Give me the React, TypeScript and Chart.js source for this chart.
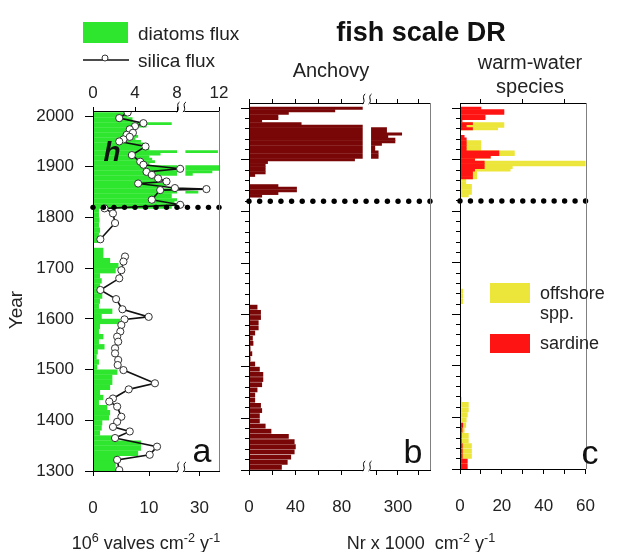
import React, { useEffect, useRef } from 'react';
import { Chart, registerables } from 'chart.js';

Chart.register(...registerables);

const FONT = "'Liberation Sans', Arial, Helvetica, sans-serif";
const TEXT = '#222';
const GREEN = '#2EE62E';
const MAROON = '#7A0707';
const YELLOW = '#EDE63A';
const RED = '#FF1414';
const TICK_SIZE = 17;

// ---------------- shared year axis ----------------
const YEAR_MIN = 1300;
const YEAR_MAX = 2010;
const regimeShiftYear = 1820;
const yearMajorTicks = [1300, 1400, 1500, 1600, 1700, 1800, 1900, 2000];
const yearMinorTicks = [1300, 1320, 1340, 1360, 1380, 1400, 1420, 1440, 1460, 1480, 1500, 1520, 1540, 1560, 1580, 1600, 1620, 1640, 1660, 1680, 1700, 1720, 1740, 1760, 1780, 1800, 1820, 1840, 1860, 1880, 1900, 1920, 1940, 1960, 1980, 2000];

// ---------------- panel a: diatoms flux (bars) & silica flux (line) ----------------
const diatomRecentYears = [2005, 2000, 1995, 1990, 1985, 1980, 1975, 1970, 1965, 1960, 1955, 1950, 1945, 1940, 1935, 1930, 1925, 1920, 1915, 1910, 1905, 1900, 1895, 1890, 1885, 1880, 1875, 1870, 1865, 1860, 1855, 1850, 1845, 1840, 1835, 1830, 1825, 1820];
const diatomRecent = [6.5, 6, 7, 7, 14, 9.5, 7, 7.5, 7, 8, 7.5, 8.5, 9, 8.5, 10, 43, 12, 10, 10.5, 11, 10, 44, 44, 39, 25, 11, 12, 11.5, 13, 12, 15, 29, 14, 14, 15, 14.5, 15, 14];
const diatomOldYears = [1815, 1805, 1795, 1785, 1775, 1765, 1755, 1745, 1735, 1725, 1715, 1705, 1695, 1685, 1675, 1665, 1655, 1645, 1635, 1625, 1615, 1605, 1595, 1585, 1575, 1565, 1555, 1545, 1535, 1525, 1515, 1505, 1495, 1485, 1475, 1465, 1455, 1445, 1435, 1425, 1415, 1405, 1395, 1385, 1375, 1365, 1355, 1345, 1335, 1325, 1315, 1305];
const diatomOld = [1.0, 1.0, 1.1, 1.0, 1.2, 1.0, 1.0, 0, 1.8, 1.8, 3.0, 4.5, 4.0, 1.2, 1.5, 1.2, 1.0, 1.6, 1.2, 1.0, 3.4, 1.5, 4.8, 1.2, 1.0, 1.8, 1.0, 2.0, 0.8, 0.6, 1.0, 0.7, 4.3, 3.4, 3.4, 3.0, 1.2, 1.8, 1.0, 2.5, 3.0, 2.8, 1.6, 1.5, 1.2, 3.6, 8.5, 8.5, 8.0, 4.3, 4.0, 4.0];
const silicaYears = [2007, 1996, 1986, 1980, 1974, 1967, 1963, 1959, 1954, 1950, 1940, 1923, 1910, 1904, 1896, 1890, 1884, 1877, 1871, 1867, 1858, 1856, 1854, 1835, 1825, 1818, 1808, 1789, 1757, 1740, 1723, 1713, 1696, 1680, 1657, 1639, 1619, 1604, 1599, 1588, 1575, 1565, 1555, 1542, 1532, 1519, 1509, 1499, 1473, 1461, 1443, 1437, 1427, 1407, 1397, 1387, 1378, 1365, 1348, 1332, 1322, 1302];
const silicaFlux = [3.3, 2.5, 4.8, 4.0, 3.5, 3.8, 3.2, 3.5, 2.9, 2.5, 5.0, 3.7, 4.5, 4.8, 8.3, 5.1, 5.6, 6.2, 7.0, 4.3, 7.8, 10.8, 6.4, 5.6, 8.3, 1.1, 1.9, 2.1, 0.7, null, 3.05, 2.9, 2.7, 2.5, 0.7, 2.2, 2.8, 5.3, 3.0, 2.7, 2.6, 2.3, 2.4, 2.1, 2.1, 2.4, 2.35, 2.9, 5.9, 3.4, 1.9, 1.55, 2.3, 2.7, 2.3, 1.9, 3.5, 2.1, 6.1, 5.4, 2.3, 2.5];
const silicaTicks = [0, 4, 8, 12];
const diatomTicks = [0, 10, 30];

// ---------------- panel b: anchovy ----------------
const anchovyRecentYears = [2000, 1995, 1990, 1985, 1980, 1975, 1970, 1965, 1960, 1955, 1950, 1945, 1940, 1935, 1930, 1925, 1920, 1915, 1910, 1905, 1900, 1895, 1890, 1885, 1880, 1875, 1870, 1865, 1860, 1855, 1850, 1845, 1840, 1835, 1830];
const anchovyRecent = [150, 74, 34, 25, 25, 11, 45, 150, 246, 246, 318, 252, 286, 286, 222, 190, 190, 206, 206, 206, 91, 16, 14, 14, 14, 14, 5, 0, 0, 0, 25, 41, 41, 25, 11];
const anchovyOldYears = [1625, 1615, 1605, 1595, 1585, 1575, 1565, 1555, 1545, 1535, 1525, 1515, 1505, 1495, 1485, 1475, 1465, 1455, 1445, 1435, 1425, 1415, 1405, 1395, 1385, 1375, 1365, 1355, 1345, 1335, 1325, 1315, 1305];
const anchovyOld = [0, 7, 10, 10, 8, 8, 5, 3, 3.5, 1, 2.5, 1, 5, 9, 12, 12, 11, 7, 5, 5, 10, 11, 9, 9, 14, 19, 34, 39, 40, 39, 36, 33, 28];
const anchovyTicks = [0, 20, 40, 60, 80, 200, 300, 400];
const anchovyTickLabels = ['0', '', '40', '', '80', '', '300', ''];

// ---------------- panel c: warm-water species ----------------
const warmRecentYears = [2000, 1995, 1990, 1985, 1980, 1975, 1970, 1965, 1960, 1955, 1950, 1945, 1940, 1935, 1930, 1925, 1920, 1915, 1910, 1905, 1900, 1895, 1890, 1885, 1880, 1875, 1870, 1865, 1860, 1855, 1850, 1845, 1840, 1835, 1830];
const sardineRecent = [10, 21, 21, 12, 12, 1, 6, 3, 6, 0, 0, 2, 3, 3, 3, 3, 3, 18.6, 18.6, 14.5, 7, 11.6, 11.6, 11.6, 7, 6, 6, 6, 0, 0, 0, 0, 0, 0, 0];
const offshoreRecent = [0, 0, 0, 0, 0, 0, 21, 21, 18, 0, 0, 0, 0, 10, 10, 10, 10, 26, 26, 14.5, 7, 62, 62, 25, 24, 8, 8, 8, 2.8, 2.8, 5.5, 5.5, 5.5, 5.5, 4];
const warmOldYears = [1655, 1645, 1635, 1625, 1615, 1605, 1595, 1585, 1575, 1565, 1555, 1545, 1535, 1525, 1515, 1505, 1495, 1485, 1475, 1465, 1455, 1445, 1435, 1425, 1415, 1405, 1395, 1385, 1375, 1365, 1355, 1345, 1335, 1325, 1315, 1305];
const offshoreOld = [0, 1.3, 1.3, 1.3, 0, 0, 0, 0, 0, 0, 0, 0, 0, 0, 0, 0, 0, 0, 0, 0, 0, 0, 0.7, 4, 4, 3.5, 3, 2.8, 2, 4, 4, 5.5, 5.5, 5.5, 3, 3];
const sardineOld = [0, 0, 0, 0, 0, 0, 0, 0, 0, 0, 0, 0, 0, 0, 0, 0, 0, 0, 0, 0, 0, 0, 0, 0, 0, 0, 0, 1.3, 1, 0.7, 0.7, 1.1, 1.1, 1.1, 3.5, 3.5];
const warmTicks = [0, 10, 20, 30, 40, 50, 60];
const warmTickLabels = ['0', '', '20', '', '40', '', '60'];
const warmTopTicks = [10, 30, 50];

// ---------------- broken-axis mappings ----------------
const breakMap = (lo: number, hi: number, resume: number, k: number) => (v: number) =>
  v <= lo ? v : v < hi ? lo : resume + (v - hi) * k;
const DIATOM_BREAK = { lo: 15, resume: 16.5 };
const diatomDisplay = breakMap(15, 20, 16.5, 0.25);
const ANCHOVY_BREAK = { lo: 98, resume: 105.2 };
const anchovyDisplay = breakMap(98, 172, 105.2, 0.181);

// ---------------- axis builders ----------------
function majorYearAxis(showLabels: boolean, width: number): any {
  return {
    type: 'linear', position: 'left', min: YEAR_MIN, max: YEAR_MAX, weight: 1, offset: false,
    afterBuildTicks: (s: any) => { s.ticks = yearMajorTicks.map((v) => ({ value: v })); },
    afterFit: (s: any) => { s.width = width; },
    ticks: { display: showLabels, font: { family: FONT, size: TICK_SIZE }, color: TEXT, padding: 11, callback: (v: any) => String(v) },
    grid: { drawOnChartArea: false, offset: false, tickLength: 8, color: '#000', lineWidth: 1 },
    border: { display: true, color: '#000', width: 1, z: 1 },
  };
}
function minorYearAxis(): any {
  return {
    type: 'linear', position: 'left', min: YEAR_MIN, max: YEAR_MAX, weight: 0, offset: false,
    afterBuildTicks: (s: any) => { s.ticks = yearMinorTicks.map((v) => ({ value: v })); },
    afterFit: (s: any) => { s.width = 0; },
    ticks: { display: false },
    grid: { drawOnChartArea: false, offset: false, tickLength: 4, color: '#000', lineWidth: 1 },
    border: { display: false },
  };
}
function xAxis(position: string, min: number, max: number, tickValues: number[], labels: string[] | null, height: number, tickLen: number, pad: number): any {
  return {
    type: 'linear', position, min, max, offset: false, stacked: false,
    afterBuildTicks: (s: any) => { s.ticks = tickValues.map((v) => ({ value: v })); },
    afterFit: (s: any) => { s.height = height; },
    ticks: {
      display: !!labels, autoSkip: false, maxRotation: 0, minRotation: 0,
      font: { family: FONT, size: TICK_SIZE }, color: TEXT, padding: pad,
      callback: (_v: any, i: number) => (labels ? labels[i] : ''),
    },
    grid: { drawOnChartArea: false, offset: false, tickLength: tickLen, color: '#000', lineWidth: 1 },
    border: { display: true, color: '#000', width: 1, z: 1 },
  };
}

// ---------------- decorations: data break, dotted regime line, break marks ----------------
function decor(o: { yAxis: string; breakAxis?: string; breakFrom?: number; breakTo?: number; markAxes?: string[] }): any {
  return {
    id: 'decor',
    afterDatasetDraw(chart: any, args: any) {
      if (!o.breakAxis || args.meta.type !== 'bar') return;
      const sx = chart.scales[o.breakAxis];
      const a = sx.getPixelForValue(o.breakFrom);
      const b = sx.getPixelForValue(o.breakTo);
      const { top, bottom } = chart.chartArea;
      const ctx = chart.ctx;
      ctx.save();
      ctx.fillStyle = '#fff';
      ctx.fillRect(a, top + 1, b - a, bottom - top - 2);
      ctx.restore();
    },
    afterDatasetsDraw(chart: any) {
      const { left, right } = chart.chartArea;
      const y = chart.scales[o.yAxis].getPixelForValue(regimeShiftYear);
      const ctx = chart.ctx;
      ctx.save();
      ctx.fillStyle = '#000';
      const n = Math.round((right - left) / 10.5);
      for (let i = 0; i <= n; i++) {
        const x = left + ((right - left) * i) / n;
        ctx.beginPath();
        ctx.arc(x, y, 2.7, 0, Math.PI * 2);
        ctx.fill();
      }
      ctx.restore();
    },
    afterDraw(chart: any) {
      const ctx = chart.ctx;
      const { top, bottom, right } = chart.chartArea;
      ctx.save();
      ctx.strokeStyle = '#808080';
      ctx.lineWidth = 1;
      ctx.beginPath();
      ctx.moveTo(Math.round(right) + 0.5, top);
      ctx.lineTo(Math.round(right) + 0.5, bottom);
      ctx.stroke();
      if (o.breakAxis && o.markAxes) {
        const sx = chart.scales[o.breakAxis];
        const a = sx.getPixelForValue(o.breakFrom);
        const b = sx.getPixelForValue(o.breakTo);
        for (const pos of o.markAxes) {
          const y = pos === 'top' ? top : bottom;
          ctx.fillStyle = '#fff';
          ctx.fillRect(a + 1, y - 2, b - a - 2, 4);
          ctx.strokeStyle = '#000';
          ctx.lineWidth = 1;
          for (const x of [a + 1, b - 1]) {
            ctx.beginPath();
            ctx.moveTo(x - 1.5, y + 1);
            ctx.bezierCurveTo(x + 3, y - 2, x - 3, y - 6, x + 1.5, y - 9);
            ctx.stroke();
          }
        }
      }
      ctx.restore();
    },
  };
}

const baseOptions = (padding: any, scales: any): any => ({
  indexAxis: 'y',
  responsive: false,
  animation: false,
  events: [],
  layout: { padding },
  plugins: { legend: { display: false }, tooltip: { enabled: false }, title: { display: false } },
  scales,
});

const barSet = (label: string, years: number[], values: number[], map: (v: number) => number, color: string, pct: number, order: number): any => ({
  type: 'bar',
  label,
  indexAxis: 'y',
  xAxisID: 'x',
  yAxisID: 'y',
  order,
  stack: 'all',
  data: years.map((yr, i) => ({ x: map(values[i]), y: yr })),
  backgroundColor: color,
  borderWidth: 0,
  barThickness: 'flex',
  categoryPercentage: 1,
  barPercentage: pct,
});

const id = (v: number) => v;

function configA(): any {
  return {
    type: 'bar',
    data: {
      datasets: [
        {
          type: 'line', label: 'silica flux', indexAxis: 'y', xAxisID: 'xTop', yAxisID: 'y', order: 0,
          data: silicaYears.map((yr, i) => ({ x: silicaFlux[i], y: yr })),
          borderColor: '#111', borderWidth: 1.6, tension: 0, spanGaps: false, fill: false,
          pointRadius: 3.6, pointBackgroundColor: '#fff', pointBorderColor: '#333', pointBorderWidth: 1,
        },
        barSet('diatoms flux', diatomRecentYears, diatomRecent, diatomDisplay, GREEN, 0.85, 2),
        barSet('diatoms flux (old)', diatomOldYears, diatomOld, diatomDisplay, GREEN, 0.92, 2),
      ],
    },
    options: baseOptions(
      { left: 8, top: 81, right: 617 - 219, bottom: 552 - 471 - 60 },
      {
        y: majorYearAxis(true, 85),
        x: xAxis('bottom', 0, 22.5, diatomTicks.map(diatomDisplay), diatomTicks.map(String), 60, 5, 22),
        xTop: xAxis('top', 0, 12, silicaTicks, silicaTicks.map(String), 30, 4, 3),
      }
    ),
    plugins: [decor({ yAxis: 'y', breakAxis: 'x', breakFrom: DIATOM_BREAK.lo, breakTo: DIATOM_BREAK.resume, markAxes: ['top', 'bottom'] })],
  };
}

function configB(): any {
  const tv = anchovyTicks.map(anchovyDisplay);
  return {
    type: 'bar',
    data: {
      datasets: [
        barSet('Anchovy', anchovyRecentYears, anchovyRecent, anchovyDisplay, MAROON, 0.9, 1),
        barSet('Anchovy (old)', anchovyOldYears, anchovyOld, anchovyDisplay, MAROON, 0.8, 1),
      ],
    },
    options: baseOptions(
      { left: 249 - 20, top: 103 - 10, right: 617 - 430, bottom: 552 - 470 - 60 },
      {
        y: majorYearAxis(false, 20),
        yMinor: minorYearAxis(),
        x: xAxis('bottom', 0, 156, tv, anchovyTickLabels, 60, 5, 22),
        xTop: xAxis('top', 0, 156, tv, null, 10, 4, 3),
      }
    ),
    plugins: [decor({ yAxis: 'y', breakAxis: 'x', breakFrom: ANCHOVY_BREAK.lo, breakTo: ANCHOVY_BREAK.resume, markAxes: ['top', 'bottom'] })],
  };
}

function configC(): any {
  return {
    type: 'bar',
    data: {
      datasets: [
        barSet('sardine', warmRecentYears, sardineRecent, id, RED, 0.9, 0),
        barSet('sardine (old)', warmOldYears, sardineOld, id, RED, 0.85, 0),
        barSet('offshore spp.', warmRecentYears, offshoreRecent, id, YELLOW, 0.9, 1),
        barSet('offshore spp. (old)', warmOldYears, offshoreOld, id, YELLOW, 0.85, 1),
      ],
    },
    options: baseOptions(
      { left: 460 - 20, top: 103 - 10, right: 617 - 606, bottom: 552 - 469 - 60 },
      {
        y: majorYearAxis(false, 20),
        yMinor: minorYearAxis(),
        x: xAxis('bottom', 0, 60, warmTicks, warmTickLabels, 60, 5, 22),
        xTop: xAxis('top', 0, 60, warmTopTicks, null, 10, 4, 3),
      }
    ),
    plugins: [decor({ yAxis: 'y' })],
  };
}

function Label({ x, y, size = 16, bold = false, italic = false, align = 'center', rotate = 0, color = TEXT, children }: any) {
  const tx = align === 'center' ? '-50%' : align === 'right' ? '-100%' : '0';
  return (
    <div
      style={{
        position: 'absolute', left: x, top: y,
        transform: `translate(${tx}, -50%)${rotate ? ` rotate(${rotate}deg)` : ''}`,
        fontSize: size, fontWeight: bold ? 700 : 400, fontStyle: italic ? 'italic' : 'normal',
        lineHeight: 1, whiteSpace: 'nowrap', color,
      }}
    >
      {children}
    </div>
  );
}

const canvasStyle: any = { position: 'absolute', left: 0, top: 0, display: 'block' };
const sup: any = { fontSize: '0.7em', verticalAlign: '0.55em', lineHeight: 0 };

export default function App() {
  const ra = useRef<HTMLCanvasElement>(null);
  const rb = useRef<HTMLCanvasElement>(null);
  const rc = useRef<HTMLCanvasElement>(null);

  useEffect(() => {
    const charts = [
      new Chart(ra.current as HTMLCanvasElement, configA()),
      new Chart(rb.current as HTMLCanvasElement, configB()),
      new Chart(rc.current as HTMLCanvasElement, configC()),
    ];
    return () => charts.forEach((c) => c.destroy());
  }, []);

  return (
    <div style={{ position: 'absolute', left: 0, top: 0, width: 617, height: 552, background: '#fff', fontFamily: FONT, color: TEXT, overflow: 'hidden' }}>
      <canvas ref={ra} width={617} height={552} style={canvasStyle} />
      <canvas ref={rb} width={617} height={552} style={canvasStyle} />
      <canvas ref={rc} width={617} height={552} style={canvasStyle} />
      <div style={{ position: 'absolute', left: 0, top: 0, width: 617, height: 552, pointerEvents: 'none' }}>
        {/* panel a legend */}
        <div style={{ position: 'absolute', left: 83, top: 22, width: 45, height: 21, background: GREEN }} />
        <Label x={138} y={33} size={19} align="left">diatoms flux</Label>
        <svg style={{ position: 'absolute', left: 83, top: 53 }} width={46} height={14}>
          <line x1={0} y1={7} x2={46} y2={7} stroke="#111" strokeWidth={1.6} />
          <circle cx={22} cy={5} r={3} fill="#fff" stroke="#333" strokeWidth={1} />
        </svg>
        <Label x={138} y={60} size={19} align="left">silica flux</Label>

        {/* titles */}
        <Label x={421} y={32} size={27} bold color="#111">fish scale DR</Label>
        <Label x={331} y={70} size={20}>Anchovy</Label>
        <Label x={530} y={62} size={20}>warm-water</Label>
        <Label x={530} y={86} size={20}>species</Label>
        <Label x={15} y={310} size={19} rotate={-90}>Year</Label>

        {/* panel letters */}
        <Label x={202} y={450} size={34} color="#111">a</Label>
        <Label x={413} y={451} size={34} color="#111">b</Label>
        <Label x={590} y={452} size={34} color="#111">c</Label>
        <Label x={112} y={152} size={28} bold italic color="#111">h</Label>

        {/* panel c legend */}
        <div style={{ position: 'absolute', left: 490, top: 283, width: 40, height: 20, background: YELLOW }} />
        <Label x={540} y={293} size={18} align="left">offshore</Label>
        <Label x={540} y={313} size={18} align="left">spp.</Label>
        <div style={{ position: 'absolute', left: 490, top: 334, width: 40, height: 19, background: RED }} />
        <Label x={540} y={343} size={18} align="left">sardine</Label>

        {/* units */}
        <Label x={146} y={543} size={18}>10<span style={sup}>6</span> valves cm<span style={sup}>-2</span> y<span style={sup}>-1</span></Label>
        <Label x={421} y={543} size={18}>Nr x 1000&nbsp;&nbsp;cm<span style={sup}>-2</span> y<span style={sup}>-1</span></Label>
      </div>
    </div>
  );
}
